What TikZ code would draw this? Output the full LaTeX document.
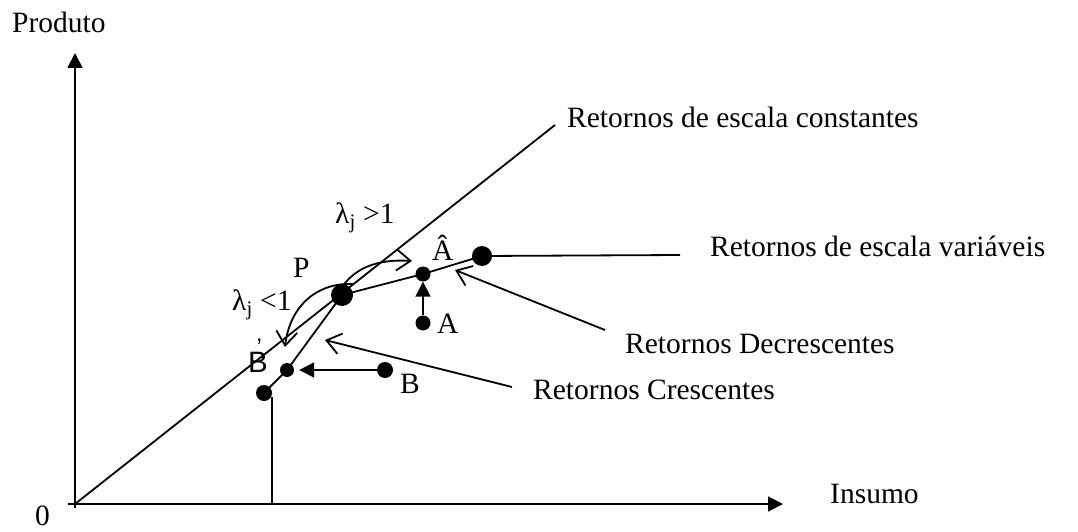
\documentclass[tikz,border=0pt]{standalone}
\usepackage{fontspec}
\setmainfont{Liberation Serif}
\newfontfamily\arialfont{Liberation Sans}
\usetikzlibrary{arrows.meta}
\begin{document}
\begin{tikzpicture}[x=1pt,y=-1pt,
  every node/.style={font=\fontsize{29.5}{34}\selectfont, inner sep=0pt},
  lbl/.style={anchor=base west},
  ln/.style={line width=1.8pt},
  dot/.style={circle, fill=black, inner sep=0pt},
  fillarrow/.style={-{Triangle[length=15pt,width=15pt]}},
  openarrow/.style={-{Straight Barb[length=14pt,width=21pt]}}
]
\useasboundingbox (0,0) rectangle (1078,532);
% axes
\coordinate (O) at (75,504);
\coordinate (xs) at (68,504);
\coordinate (xe) at (783,504);
\coordinate (ys) at (75,508);
\coordinate (ye) at (75,53);
\draw[ln, fillarrow] (xs) -- (xe);
\draw[ln, fillarrow] (ys) -- (ye);
% constant returns
\coordinate (crsEnd) at (555,125);
\draw[ln] (O) -- (crsEnd);
% dots
\node[dot, minimum size=16pt] (S) at (264,393) {};
\node[dot, minimum size=14pt] (Bp) at (287,370) {};
\node[dot, minimum size=22pt] (P) at (342,295) {};
\node[dot, minimum size=15pt] (Ah) at (423,274) {};
\node[dot, minimum size=20pt] (E) at (482,256) {};
\node[dot, minimum size=15pt] (A) at (423,323) {};
\node[dot, minimum size=16pt] (B) at (385,370) {};
% variable returns frontier
\coordinate (vBot) at (272,504);
\coordinate (vTop) at (272,397);
\draw[ln] (vBot) -- (vTop);
\coordinate (vrsEnd) at (680,255);
\draw[ln] (S.center) -- (Bp.center) -- (P.center) -- (Ah.center) -- (E.center) -- (vrsEnd);
% projections
\draw[ln, fillarrow] (A) -- (Ah);
\draw[ln, fillarrow, shorten >=5pt] (B) -- (Bp);
% lambda curves
\coordinate (g1s) at (336,298);
\coordinate (g1e) at (412,261);
\draw[ln, openarrow] (g1s) .. controls (350,266) and (380,259) .. (g1e);
\coordinate (g2s) at (354,284);
\coordinate (g2e) at (285,347);
\draw[ln, openarrow] (g2s) .. controls (318,282) and (290,305) .. (g2e);
% label arrows
\coordinate (decS) at (605,330);
\coordinate (decT) at (455,270);
\draw[ln, openarrow] (decS) -- (decT);
\coordinate (creS) at (512,387);
\coordinate (creT) at (325,340);
\draw[ln, openarrow] (creS) -- (creT);
% labels
\node[lbl] (lProd) at (12,33) {Produto};
\node[lbl] (l0) at (35,525) {0};
\node[lbl] (lIns) at (830,503) {Insumo};
\node[lbl] (lCRS) at (567,128) {Retornos de escala constantes};
\node[lbl] (lVRS) at (710,256) {Retornos de escala variáveis};
\node[lbl] (lDec) at (625,353) {Retornos Decrescentes};
\node[lbl] (lCre) at (533,399) {Retornos Crescentes};
\node[lbl] (lP) at (293,277) {P};
\node[lbl] (lA) at (437,333) {A};
\node[lbl] (lB) at (400,393) {B};
\node[lbl] (lAh) at (432,260) {Â};
\node[lbl] (lLt) at (232,310) {λ\textsubscript{j} <1};
\node[lbl] (lGt) at (335,223) {λ\textsubscript{j} >1};
\node[lbl] (lBs) at (248,372) {\arialfont B\llap{\raisebox{17pt}{\fontsize{24}{28}\selectfont ’}\hspace{6pt}}};
\end{tikzpicture}
\end{document}
